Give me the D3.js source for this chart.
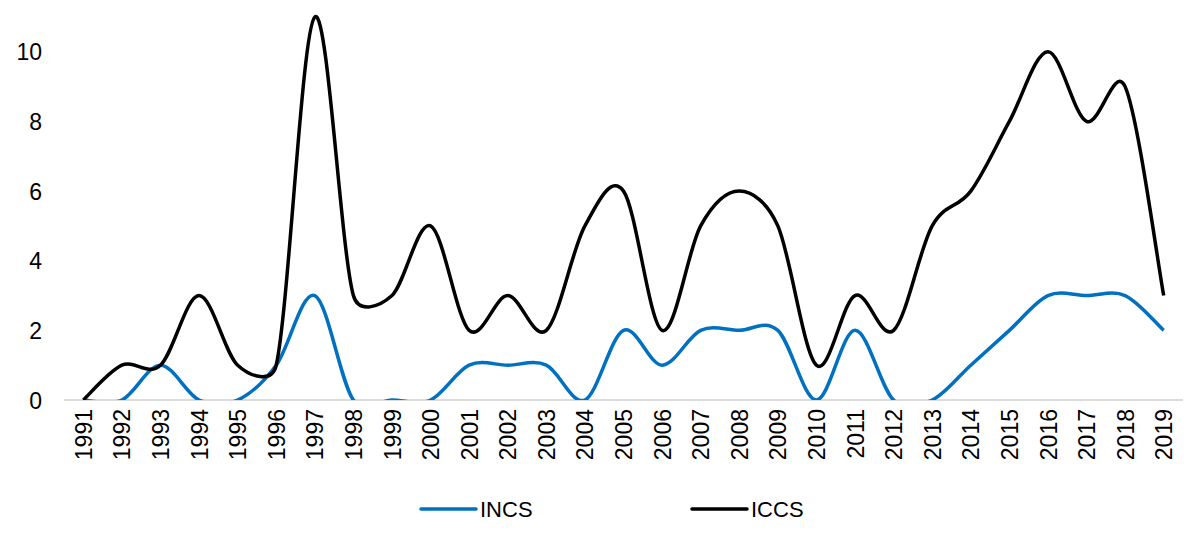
<!DOCTYPE html>
<html>
<head>
<meta charset="utf-8">
<script src="https://cdn.jsdelivr.net/npm/d3@7"></script>
<style>
  body { margin: 0; background: #fff; }
  svg text { font-family: "Liberation Sans Narrow", "Arial Narrow", "Liberation Sans", sans-serif; fill: #000; }
</style>
</head>
<body>
<svg id="chart" width="1200" height="539"></svg>
<script>
const years = d3.range(1991, 2020).map(String);
const incs = [0, 0, 1, 0, 0, 1, 3, 0, 0, 0, 1, 1, 1, 0, 2, 1, 2, 2, 2, 0, 2, 0, 0, 1, 2, 3, 3, 3, 2];
const iccs = [0, 1, 1, 3, 1, 1, 11, 3, 3, 5, 2, 3, 2, 5, 6, 2, 5, 6, 5, 1, 3, 2, 5, 6, 8, 10, 8, 9, 3];
const yTicks = [0, 2, 4, 6, 8, 10];
const seriesNames = ["INCS", "ICCS"];
const seriesColors = ["#0070C0", "#000000"];

const svg = d3.select("#chart");
const plotLeft = 64, plotRight = 1183, plotTop = 17, plotBottom = 400;

const x = d3.scalePoint().domain(years).range([plotLeft, plotRight]).padding(0.5);
const y = d3.scaleLinear().domain([0, 11]).range([plotBottom, plotTop]);

// spreadsheet-style smoothing: catmull-rom handles, shortened on steep segments
function excelSmooth(context) {
  let pts;
  const dist = (a, b) => Math.hypot(b[0] - a[0], b[1] - a[1]);
  return {
    areaStart() {}, areaEnd() {},
    lineStart() { pts = []; },
    point(px, py) { pts.push([+px, +py]); },
    lineEnd() {
      const n = pts.length;
      if (!n) return;
      context.moveTo(pts[0][0], pts[0][1]);
      for (let i = 0; i < n - 1; i++) {
        const p0 = pts[Math.max(i - 1, 0)], p1 = pts[i], p2 = pts[i + 1], p3 = pts[Math.min(i + 2, n - 1)];
        const seg = dist(p1, p2);
        const d1 = dist(p0, p2), d2 = dist(p1, p3);
        const f1 = d1 > 0 ? Math.min(1 / 6, 0.5 * seg / d1) : 0;
        const f2 = d2 > 0 ? Math.min(1 / 6, 0.5 * seg / d2) : 0;
        context.bezierCurveTo(
          p1[0] + f1 * (p2[0] - p0[0]), p1[1] + f1 * (p2[1] - p0[1]),
          p2[0] - f2 * (p3[0] - p1[0]), p2[1] - f2 * (p3[1] - p1[1]),
          p2[0], p2[1]);
      }
    }
  };
}

// clip below zero like the spreadsheet plot area
svg.append("defs").append("clipPath").attr("id", "plotclip")
    .append("rect").attr("x", 0).attr("y", 0).attr("width", 1200).attr("height", plotBottom);

// y axis labels only
const yAxis = svg.append("g")
    .attr("transform", `translate(${plotLeft - 22},0)`)
    .call(d3.axisLeft(y).tickValues(yTicks).tickSize(0).tickPadding(0));
yAxis.select(".domain").remove();
yAxis.selectAll("text").style("font-size", "23px").attr("dy", "0.35em");

// x axis
const xAxis = svg.append("g")
    .attr("transform", `translate(0,${plotBottom})`)
    .call(d3.axisBottom(x).tickSize(0).tickSizeOuter(0));
xAxis.select(".domain").attr("stroke", "#d0d0d0").attr("stroke-width", 1.5)
    .attr("d", `M${plotLeft},0H${plotRight}`);
xAxis.selectAll("text")
    .style("font-size", "23px")
    .attr("text-anchor", "end")
    .attr("transform", "rotate(-90)")
    .attr("x", -9)
    .attr("y", 0)
    .attr("dy", "0.35em");

const line = d3.line()
    .x((d, i) => x(years[i]))
    .y(d => y(d))
    .curve(excelSmooth);

const plot = svg.append("g").attr("clip-path", "url(#plotclip)");
[incs, iccs].forEach((vals, k) => {
  plot.append("path")
      .datum(vals)
      .attr("fill", "none")
      .attr("stroke", seriesColors[k])
      .attr("stroke-width", 3.5)
      .attr("stroke-linejoin", "round")
      .attr("d", line);
});

// legend
const legendX = [421, 692];
seriesNames.forEach((name, k) => {
  const g = svg.append("g").attr("transform", `translate(${legendX[k]},509)`);
  g.append("line").attr("x1", 0).attr("x2", 55).attr("y1", 0).attr("y2", 0)
      .attr("stroke", seriesColors[k]).attr("stroke-width", 3.5).attr("stroke-linecap", "round");
  g.append("text").attr("x", 59).attr("y", 0).attr("dy", "0.35em")
      .style("font-size", "22px").text(name);
});
</script>
</body>
</html>
